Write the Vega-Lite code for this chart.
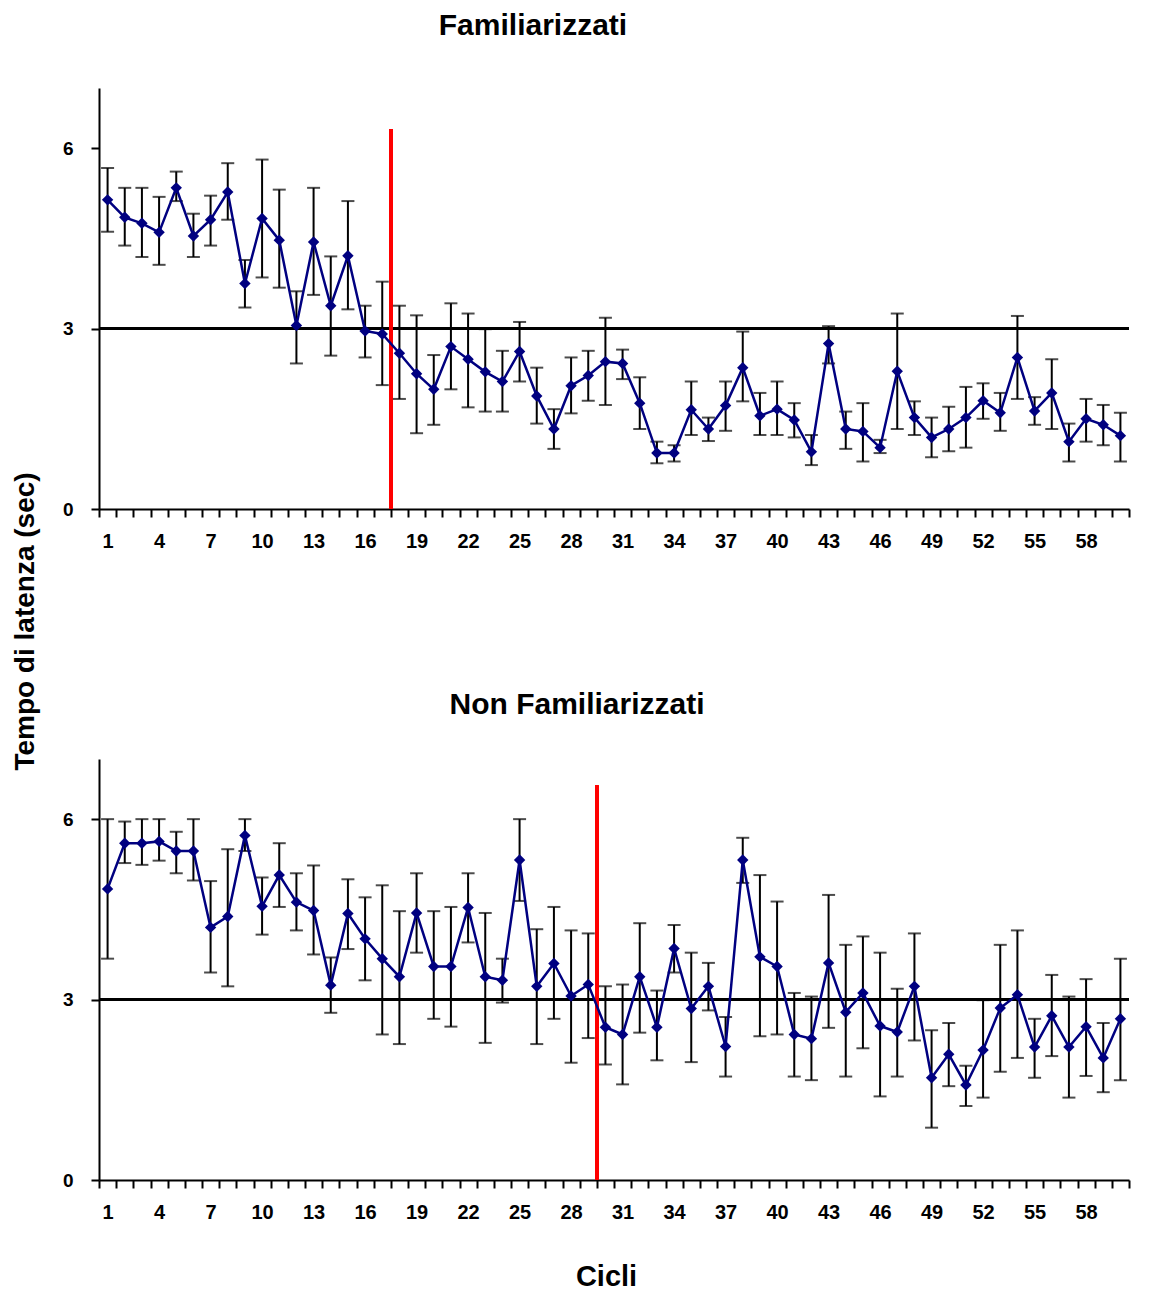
{
  "$schema": "https://vega.github.io/schema/vega-lite/v6.json",
  "background": "white",
  "padding": {"left": 11, "top": 11, "right": 5, "bottom": 0},
  "config": {
    "view": {"stroke": null},
    "font": "Liberation Sans",
    "axis": {
      "domainColor": "black",
      "domainWidth": 2,
      "tickColor": "black",
      "tickWidth": 2,
      "tickSize": 8,
      "grid": false,
      "labelFont": "Liberation Sans",
      "labelFontWeight": "bold",
      "labelColor": "black",
      "titleFont": "Liberation Sans",
      "titleFontWeight": "bold",
      "titleColor": "black"
    },
    "title": {"font": "Liberation Sans", "fontWeight": "bold", "fontSize": 30, "color": "black"}
  },
  "datasets": {
    "fam": [
      {"ciclo": 1, "media": 5.14, "sup": 5.67, "inf": 4.61},
      {"ciclo": 2, "media": 4.85, "sup": 5.34, "inf": 4.38},
      {"ciclo": 3, "media": 4.75, "sup": 5.34, "inf": 4.19},
      {"ciclo": 4, "media": 4.60, "sup": 5.19, "inf": 4.06},
      {"ciclo": 5, "media": 5.34, "sup": 5.61, "inf": 5.12},
      {"ciclo": 6, "media": 4.54, "sup": 4.91, "inf": 4.19},
      {"ciclo": 7, "media": 4.81, "sup": 5.21, "inf": 4.38},
      {"ciclo": 8, "media": 5.27, "sup": 5.75, "inf": 4.81},
      {"ciclo": 9, "media": 3.75, "sup": 4.14, "inf": 3.35},
      {"ciclo": 10, "media": 4.83, "sup": 5.81, "inf": 3.85},
      {"ciclo": 11, "media": 4.47, "sup": 5.31, "inf": 3.68},
      {"ciclo": 12, "media": 3.05, "sup": 3.62, "inf": 2.42},
      {"ciclo": 13, "media": 4.44, "sup": 5.34, "inf": 3.56},
      {"ciclo": 14, "media": 3.38, "sup": 4.20, "inf": 2.55},
      {"ciclo": 15, "media": 4.21, "sup": 5.12, "inf": 3.32},
      {"ciclo": 16, "media": 2.96, "sup": 3.38, "inf": 2.52},
      {"ciclo": 17, "media": 2.91, "sup": 3.78, "inf": 2.06},
      {"ciclo": 18, "media": 2.59, "sup": 3.38, "inf": 1.83},
      {"ciclo": 19, "media": 2.25, "sup": 3.22, "inf": 1.26},
      {"ciclo": 20, "media": 1.99, "sup": 2.56, "inf": 1.40},
      {"ciclo": 21, "media": 2.70, "sup": 3.42, "inf": 1.99},
      {"ciclo": 22, "media": 2.49, "sup": 3.25, "inf": 1.69},
      {"ciclo": 23, "media": 2.28, "sup": 2.99, "inf": 1.62},
      {"ciclo": 24, "media": 2.12, "sup": 2.63, "inf": 1.62},
      {"ciclo": 25, "media": 2.62, "sup": 3.11, "inf": 2.12},
      {"ciclo": 26, "media": 1.88, "sup": 2.35, "inf": 1.42},
      {"ciclo": 27, "media": 1.33, "sup": 1.66, "inf": 1.00},
      {"ciclo": 28, "media": 2.05, "sup": 2.52, "inf": 1.59},
      {"ciclo": 29, "media": 2.22, "sup": 2.63, "inf": 1.80},
      {"ciclo": 30, "media": 2.45, "sup": 3.18, "inf": 1.73},
      {"ciclo": 31, "media": 2.42, "sup": 2.65, "inf": 2.16},
      {"ciclo": 32, "media": 1.76, "sup": 2.19, "inf": 1.33},
      {"ciclo": 33, "media": 0.93, "sup": 1.12, "inf": 0.76},
      {"ciclo": 34, "media": 0.93, "sup": 1.06, "inf": 0.79},
      {"ciclo": 35, "media": 1.65, "sup": 2.12, "inf": 1.23},
      {"ciclo": 36, "media": 1.33, "sup": 1.52, "inf": 1.13},
      {"ciclo": 37, "media": 1.72, "sup": 2.12, "inf": 1.30},
      {"ciclo": 38, "media": 2.35, "sup": 2.95, "inf": 1.79},
      {"ciclo": 39, "media": 1.55, "sup": 1.93, "inf": 1.23},
      {"ciclo": 40, "media": 1.66, "sup": 2.12, "inf": 1.23},
      {"ciclo": 41, "media": 1.48, "sup": 1.76, "inf": 1.19},
      {"ciclo": 42, "media": 0.95, "sup": 1.23, "inf": 0.73},
      {"ciclo": 43, "media": 2.75, "sup": 3.04, "inf": 2.42},
      {"ciclo": 44, "media": 1.33, "sup": 1.62, "inf": 1.00},
      {"ciclo": 45, "media": 1.29, "sup": 1.76, "inf": 0.79},
      {"ciclo": 46, "media": 1.02, "sup": 1.15, "inf": 0.93},
      {"ciclo": 47, "media": 2.29, "sup": 3.25, "inf": 1.33},
      {"ciclo": 48, "media": 1.52, "sup": 1.79, "inf": 1.23},
      {"ciclo": 49, "media": 1.19, "sup": 1.52, "inf": 0.86},
      {"ciclo": 50, "media": 1.33, "sup": 1.70, "inf": 0.96},
      {"ciclo": 51, "media": 1.52, "sup": 2.03, "inf": 1.02},
      {"ciclo": 52, "media": 1.80, "sup": 2.09, "inf": 1.50},
      {"ciclo": 53, "media": 1.60, "sup": 1.93, "inf": 1.30},
      {"ciclo": 54, "media": 2.52, "sup": 3.21, "inf": 1.83},
      {"ciclo": 55, "media": 1.63, "sup": 1.86, "inf": 1.40},
      {"ciclo": 56, "media": 1.93, "sup": 2.49, "inf": 1.33},
      {"ciclo": 57, "media": 1.12, "sup": 1.42, "inf": 0.79},
      {"ciclo": 58, "media": 1.50, "sup": 1.83, "inf": 1.12},
      {"ciclo": 59, "media": 1.40, "sup": 1.73, "inf": 1.06},
      {"ciclo": 60, "media": 1.22, "sup": 1.60, "inf": 0.79}
    ],
    "nonfam": [
      {"ciclo": 1, "media": 4.84, "sup": 6.00, "inf": 3.68},
      {"ciclo": 2, "media": 5.60, "sup": 5.96, "inf": 5.27},
      {"ciclo": 3, "media": 5.60, "sup": 6.00, "inf": 5.24},
      {"ciclo": 4, "media": 5.63, "sup": 6.00, "inf": 5.31},
      {"ciclo": 5, "media": 5.47, "sup": 5.79, "inf": 5.10},
      {"ciclo": 6, "media": 5.47, "sup": 6.00, "inf": 4.98},
      {"ciclo": 7, "media": 4.20, "sup": 4.97, "inf": 3.45},
      {"ciclo": 8, "media": 4.38, "sup": 5.50, "inf": 3.22},
      {"ciclo": 9, "media": 5.73, "sup": 6.00, "inf": 5.47},
      {"ciclo": 10, "media": 4.55, "sup": 5.03, "inf": 4.08},
      {"ciclo": 11, "media": 5.07, "sup": 5.60, "inf": 4.54},
      {"ciclo": 12, "media": 4.62, "sup": 5.10, "inf": 4.15},
      {"ciclo": 13, "media": 4.48, "sup": 5.23, "inf": 3.75},
      {"ciclo": 14, "media": 3.24, "sup": 3.70, "inf": 2.78},
      {"ciclo": 15, "media": 4.43, "sup": 5.00, "inf": 3.84},
      {"ciclo": 16, "media": 4.01, "sup": 4.70, "inf": 3.32},
      {"ciclo": 17, "media": 3.68, "sup": 4.90, "inf": 2.42},
      {"ciclo": 18, "media": 3.38, "sup": 4.47, "inf": 2.26},
      {"ciclo": 19, "media": 4.44, "sup": 5.10, "inf": 3.78},
      {"ciclo": 20, "media": 3.55, "sup": 4.47, "inf": 2.68},
      {"ciclo": 21, "media": 3.55, "sup": 4.54, "inf": 2.55},
      {"ciclo": 22, "media": 4.53, "sup": 5.10, "inf": 3.95},
      {"ciclo": 23, "media": 3.38, "sup": 4.44, "inf": 2.28},
      {"ciclo": 24, "media": 3.32, "sup": 3.68, "inf": 2.95},
      {"ciclo": 25, "media": 5.32, "sup": 6.00, "inf": 4.64},
      {"ciclo": 26, "media": 3.22, "sup": 4.17, "inf": 2.26},
      {"ciclo": 27, "media": 3.60, "sup": 4.54, "inf": 2.68},
      {"ciclo": 28, "media": 3.06, "sup": 4.15, "inf": 1.95},
      {"ciclo": 29, "media": 3.25, "sup": 4.10, "inf": 2.36},
      {"ciclo": 30, "media": 2.54, "sup": 3.22, "inf": 1.92},
      {"ciclo": 31, "media": 2.42, "sup": 3.25, "inf": 1.59},
      {"ciclo": 32, "media": 3.38, "sup": 4.27, "inf": 2.45},
      {"ciclo": 33, "media": 2.54, "sup": 3.15, "inf": 1.99},
      {"ciclo": 34, "media": 3.85, "sup": 4.24, "inf": 3.45},
      {"ciclo": 35, "media": 2.85, "sup": 3.78, "inf": 1.96},
      {"ciclo": 36, "media": 3.22, "sup": 3.61, "inf": 2.82},
      {"ciclo": 37, "media": 2.22, "sup": 2.71, "inf": 1.72},
      {"ciclo": 38, "media": 5.32, "sup": 5.69, "inf": 4.94},
      {"ciclo": 39, "media": 3.71, "sup": 5.07, "inf": 2.39},
      {"ciclo": 40, "media": 3.55, "sup": 4.63, "inf": 2.42},
      {"ciclo": 41, "media": 2.42, "sup": 3.11, "inf": 1.72},
      {"ciclo": 42, "media": 2.35, "sup": 3.05, "inf": 1.66},
      {"ciclo": 43, "media": 3.61, "sup": 4.74, "inf": 2.53},
      {"ciclo": 44, "media": 2.79, "sup": 3.91, "inf": 1.72},
      {"ciclo": 45, "media": 3.11, "sup": 4.05, "inf": 2.19},
      {"ciclo": 46, "media": 2.56, "sup": 3.78, "inf": 1.39},
      {"ciclo": 47, "media": 2.46, "sup": 3.18, "inf": 1.72},
      {"ciclo": 48, "media": 3.22, "sup": 4.10, "inf": 2.32},
      {"ciclo": 49, "media": 1.70, "sup": 2.49, "inf": 0.87},
      {"ciclo": 50, "media": 2.09, "sup": 2.61, "inf": 1.56},
      {"ciclo": 51, "media": 1.58, "sup": 1.90, "inf": 1.23},
      {"ciclo": 52, "media": 2.16, "sup": 2.99, "inf": 1.37},
      {"ciclo": 53, "media": 2.86, "sup": 3.91, "inf": 1.80},
      {"ciclo": 54, "media": 3.08, "sup": 4.15, "inf": 2.03},
      {"ciclo": 55, "media": 2.21, "sup": 2.68, "inf": 1.70},
      {"ciclo": 56, "media": 2.73, "sup": 3.41, "inf": 2.06},
      {"ciclo": 57, "media": 2.21, "sup": 3.05, "inf": 1.37},
      {"ciclo": 58, "media": 2.55, "sup": 3.34, "inf": 1.73},
      {"ciclo": 59, "media": 2.03, "sup": 2.61, "inf": 1.46},
      {"ciclo": 60, "media": 2.68, "sup": 3.68, "inf": 1.66}
    ]
  },
  "vconcat": [
    {
      "width": 1030,
      "height": 421,
      "title": {"text": "Familiarizzati", "frame": "group", "anchor": "middle", "dx": -81, "offset": 23, "baseline": "alphabetic"},
      "data": {"name": "fam"},
      "encoding": {
        "x": {
          "field": "ciclo", "type": "ordinal", "bandPosition": 0.5,
          "scale": {"type": "band", "paddingInner": 0, "paddingOuter": 0},
          "axis": {"title": null, "labelAngle": 0, "tickBand": "extent", "labelFontSize": 20, "labelPadding": 14,
                   "labelExpr": "datum.value % 3 == 1 ? datum.label : ''"}
        },
        "y": {
          "type": "quantitative",
          "scale": {"domain": [0, 7], "nice": false, "zero": true},
          "axis": {"values": [0, 3, 6], "labelFontSize": 19, "labelPadding": 18,
                   "title": "Tempo di latenza (sec)", "titleFontSize": 28, "titleAngle": 270,
                   "titleX": -74, "titleY": 533, "titleAlign": "center", "titleBaseline": "middle"}
        }
      },
      "layer": [
        {"mark": {"type": "rule", "color": "black", "strokeWidth": 3}, "encoding": {"x": null, "y": {"datum": 3}}},
        {"mark": {"type": "rule", "color": "#ff0000", "strokeWidth": 2.5},
         "encoding": {"x": {"datum": 17, "type": "ordinal", "bandPosition": 1}, "y": {"datum": 0}, "y2": {"datum": 6.32}}},
        {"mark": {"type": "rule", "color": "black", "strokeWidth": 2}, "encoding": {"y": {"field": "inf"}, "y2": {"field": "sup"}}},
        {"mark": {"type": "tick", "color": "black", "thickness": 2, "size": 13, "orient": "horizontal"}, "encoding": {"y": {"field": "sup"}}},
        {"mark": {"type": "tick", "color": "black", "thickness": 2, "size": 13, "orient": "horizontal"}, "encoding": {"y": {"field": "inf"}}},
        {"mark": {"type": "line", "color": "#000080", "strokeWidth": 2.5}, "encoding": {"y": {"field": "media"}}},
        {"mark": {"type": "point", "shape": "diamond", "filled": true, "color": "#000080", "size": 130, "opacity": 1}, "encoding": {"y": {"field": "media"}}}
      ]
    },
    {
      "width": 1030,
      "height": 421,
      "title": {"text": "Non Familiarizzati", "frame": "group", "anchor": "middle", "dx": -37, "offset": 15, "baseline": "alphabetic"},
      "data": {"name": "nonfam"},
      "encoding": {
        "x": {
          "field": "ciclo", "type": "ordinal", "bandPosition": 0.5,
          "scale": {"type": "band", "paddingInner": 0, "paddingOuter": 0},
          "axis": {"title": "Cicli", "titleFontSize": 29, "titleX": 507, "titleY": 105, "titleAlign": "center", "titleBaseline": "alphabetic",
                   "labelAngle": 0, "tickBand": "extent", "labelFontSize": 20, "labelPadding": 14,
                   "labelExpr": "datum.value % 3 == 1 ? datum.label : ''"}
        },
        "y": {
          "type": "quantitative",
          "scale": {"domain": [0, 7], "nice": false, "zero": true},
          "axis": {"values": [0, 3, 6], "labelFontSize": 19, "labelPadding": 18, "title": null}
        }
      },
      "layer": [
        {"mark": {"type": "rule", "color": "black", "strokeWidth": 2}, "encoding": {"x": null, "y": {"datum": 3}}},
        {"mark": {"type": "rule", "color": "#ff0000", "strokeWidth": 2.5},
         "encoding": {"x": {"datum": 29, "type": "ordinal", "bandPosition": 1}, "y": {"datum": 0}, "y2": {"datum": 6.56}}},
        {"mark": {"type": "rule", "color": "black", "strokeWidth": 2}, "encoding": {"y": {"field": "inf"}, "y2": {"field": "sup"}}},
        {"mark": {"type": "tick", "color": "black", "thickness": 2, "size": 13, "orient": "horizontal"}, "encoding": {"y": {"field": "sup"}}},
        {"mark": {"type": "tick", "color": "black", "thickness": 2, "size": 13, "orient": "horizontal"}, "encoding": {"y": {"field": "inf"}}},
        {"mark": {"type": "line", "color": "#000080", "strokeWidth": 2.5}, "encoding": {"y": {"field": "media"}}},
        {"mark": {"type": "point", "shape": "diamond", "filled": true, "color": "#000080", "size": 130, "opacity": 1}, "encoding": {"y": {"field": "media"}}}
      ]
    }
  ],
  "spacing": 250,
  "bounds": "flush"
}
